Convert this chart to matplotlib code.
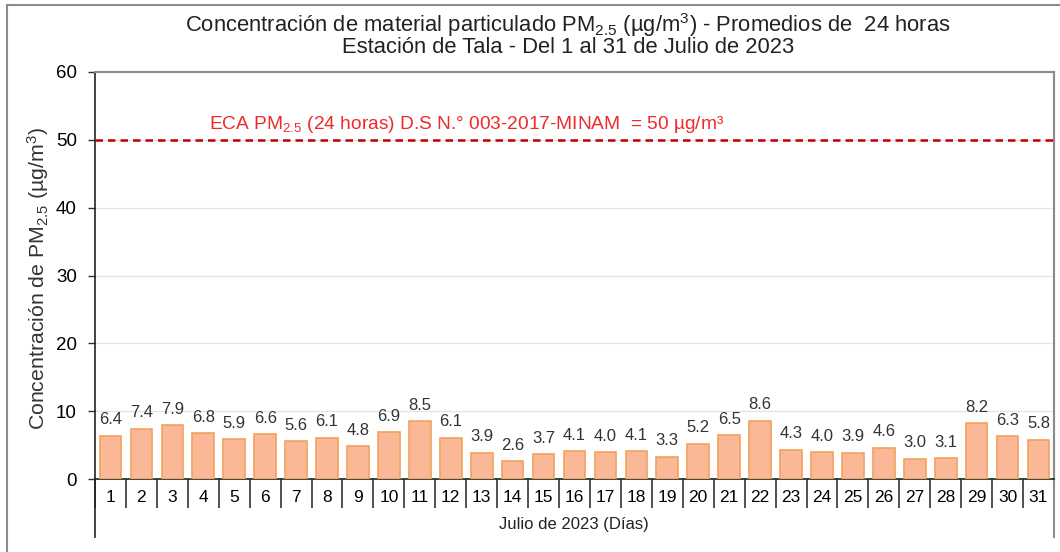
import matplotlib
matplotlib.use("Agg")
import matplotlib.pyplot as plt
from matplotlib.lines import Line2D
from matplotlib.patches import Rectangle

plt.rcParams["font.family"] = ["Liberation Sans", "DejaVu Sans"]
plt.rcParams["mathtext.fontset"] = "custom"
plt.rcParams["mathtext.rm"] = "Liberation Sans"
plt.rcParams["mathtext.it"] = "Liberation Sans:italic"
plt.rcParams["mathtext.bf"] = "Liberation Sans:bold"

# daily means, July 2023
days = list(range(1, 32))
pm25 = [6.4, 7.4, 7.9, 6.8, 5.9, 6.6, 5.6, 6.1, 4.8, 6.9, 8.5, 6.1, 3.9, 2.6,
        3.7, 4.1, 4.0, 4.1, 3.3, 5.2, 6.5, 8.6, 4.3, 4.0, 3.9, 4.6, 3.0, 3.1,
        8.2, 6.3, 5.8]
eca_limit = 50
yticks = [0, 10, 20, 30, 40, 50, 60]

fig = plt.figure(figsize=(10.6, 5.52), dpi=100)
ax = fig.add_axes([95 / 1060, 1 - 479 / 552, 959 / 1060, 407 / 552])

# outer frame of the picture
fig.patches.append(Rectangle((7 / 1060, -0.1), 1.2, 1 - 5 / 552 + 0.1,
                             transform=fig.transFigure, fill=False,
                             edgecolor="#8c8c8c", linewidth=1.5))

bars = ax.bar(days, pm25, width=0.7, color="#FBB896", edgecolor="#F4A15E",
              linewidth=1.2, zorder=3)
for d, v in zip(days, pm25):
    ax.annotate(f"{v:.1f}", (d, v), xytext=(0, 6), textcoords="offset points",
                ha="center", va="bottom", fontsize=12, color="#333333")

ax.axhline(eca_limit, color="#C00000", linestyle=(0, (3, 2)), linewidth=1.8,
           zorder=4)
ax.text(12.5, 52.2, "ECA PM$_{2.5}$ (24 horas) D.S N.° 003-2017-MINAM  = 50 µg/m³",
        color="#EE2A2A", fontsize=13.8, ha="center", va="center")

ax.set_xlim(0.5, 31.5)
ax.set_ylim(0, 60)
ax.set_yticks(yticks)
ax.set_yticklabels([str(t) for t in yticks], fontsize=13.5)
ax.set_xticks(days)
ax.set_xticklabels([str(d) for d in days], fontsize=12.5)
ax.set_xticks([d + 0.5 for d in range(0, 32)], minor=True)
ax.tick_params(axis="x", which="major", length=0, pad=8)
ax.tick_params(axis="x", which="minor", length=21, width=1.2, color="#333333",
               direction="out")
ax.tick_params(axis="y", length=5, width=1, color="#333333", pad=8)
ax.yaxis.grid(True, color="#e4e4e4", linewidth=0.9, zorder=0)

for side in ["top", "right"]:
    ax.spines[side].set_color("#8c8c8c")
    ax.spines[side].set_linewidth(1.5)
ax.spines["left"].set_color("#222222")
ax.spines["bottom"].set_color("#222222")
ax.spines["bottom"].set_linewidth(1.2)
ax.spines["left"].set_linewidth(1.2)

# axis lines continue below the category band
ax.add_line(Line2D([0, 0], [0, -0.1425], transform=ax.transAxes, color="#222222",
                   linewidth=1.2, clip_on=False))
ax.add_line(Line2D([1, 1], [1, -0.1425], transform=ax.transAxes, color="#8c8c8c",
                   linewidth=1.5, clip_on=False))

ax.set_ylabel("Concentración de PM$_{2.5}$ (µg/m$^3$)", fontsize=15.3,
              color="#333333")
ax.yaxis.set_label_coords(-0.046, 0.494)
fig.text(574 / 1060, 1 - 524 / 552, "Julio de 2023 (Días)", fontsize=12,
         ha="center", va="center", color="#222222")
fig.text(568 / 1060, 1 - 25 / 552,
         "Concentración de material particulado PM$_{2.5}$ (µg/m$^3$) - Promedios de  24 horas",
         fontsize=15.8, ha="center", va="center", color="#222222")
fig.text(568 / 1060, 1 - 48 / 552, "Estación de Tala - Del 1 al 31 de Julio de 2023",
         fontsize=15.8, ha="center", va="center", color="#222222")

fig.savefig("out.png", dpi=100)
